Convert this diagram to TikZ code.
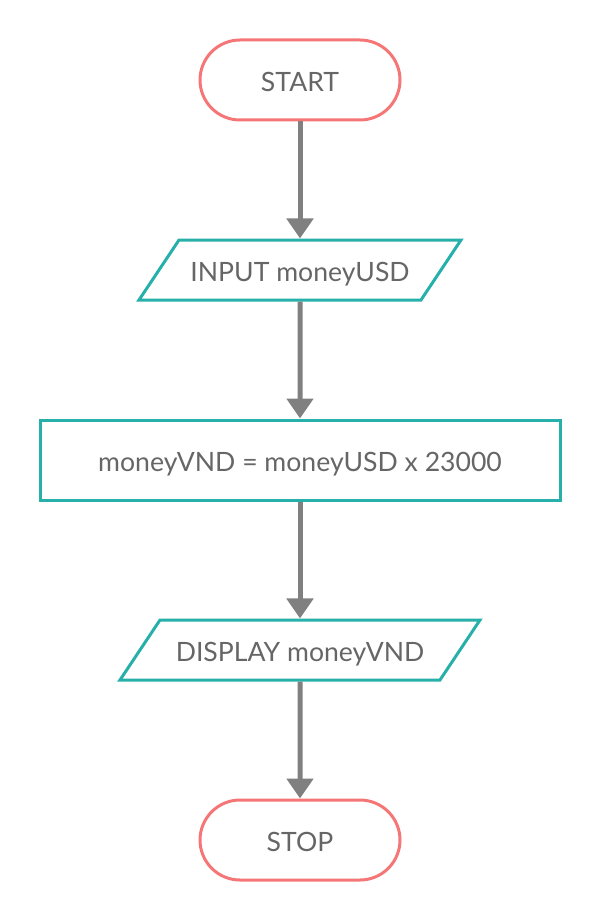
\documentclass[tikz,border=0pt]{standalone}
\usepackage{fontspec}
\setmainfont{Lato}
\usetikzlibrary{shapes.geometric,arrows.meta}
\definecolor{salmon}{HTML}{F47676}
\definecolor{teal}{HTML}{27B0AA}
\definecolor{txtgray}{HTML}{666666}
\definecolor{arrowgray}{HTML}{808080}
\begin{document}
\begin{tikzpicture}[x=1pt, y=1pt, node distance=190pt, font=\fontsize{26.6}{30}\selectfont, text=txtgray]
    % Define styles
    \tikzstyle{box} = [text height=26pt, text depth=3pt, text centered, fill=white, line width=3pt]
    \tikzstyle{terminal} = [box, rectangle, rounded corners=40pt, minimum width=200pt, minimum height=80pt, draw=salmon]
    \tikzstyle{io} = [box, trapezium, trapezium left angle=56.31, trapezium right angle=123.69, trapezium stretches body, inner xsep=0pt, inner ysep=15.5pt, draw=teal]
    \tikzstyle{process} = [box, rectangle, minimum width=520pt, minimum height=80pt, draw=teal]
    \tikzstyle{line} = [draw, -{Triangle[width=26pt, length=20pt]}, line width=5pt, arrowgray]

    \useasboundingbox (0,0) rectangle (600,-920);

    % Place nodes
    \node [terminal] (start) at (300,-80) {START};
    \node [io, minimum width=322pt, below of=start] (input) {INPUT moneyUSD};
    \node [process, below of=input] (convert) {moneyVND = moneyUSD x 23000};
    \node [io, minimum width=360pt, below of=convert] (display) {DISPLAY moneyVND};
    \node [terminal, below of=display] (stop) {STOP};

    % Draw edges
    \path [line] (start) -- (input);
    \path [line] (input) -- (convert);
    \path [line] (convert) -- (display);
    \path [line] (display) -- (stop);
\end{tikzpicture}
\end{document}
